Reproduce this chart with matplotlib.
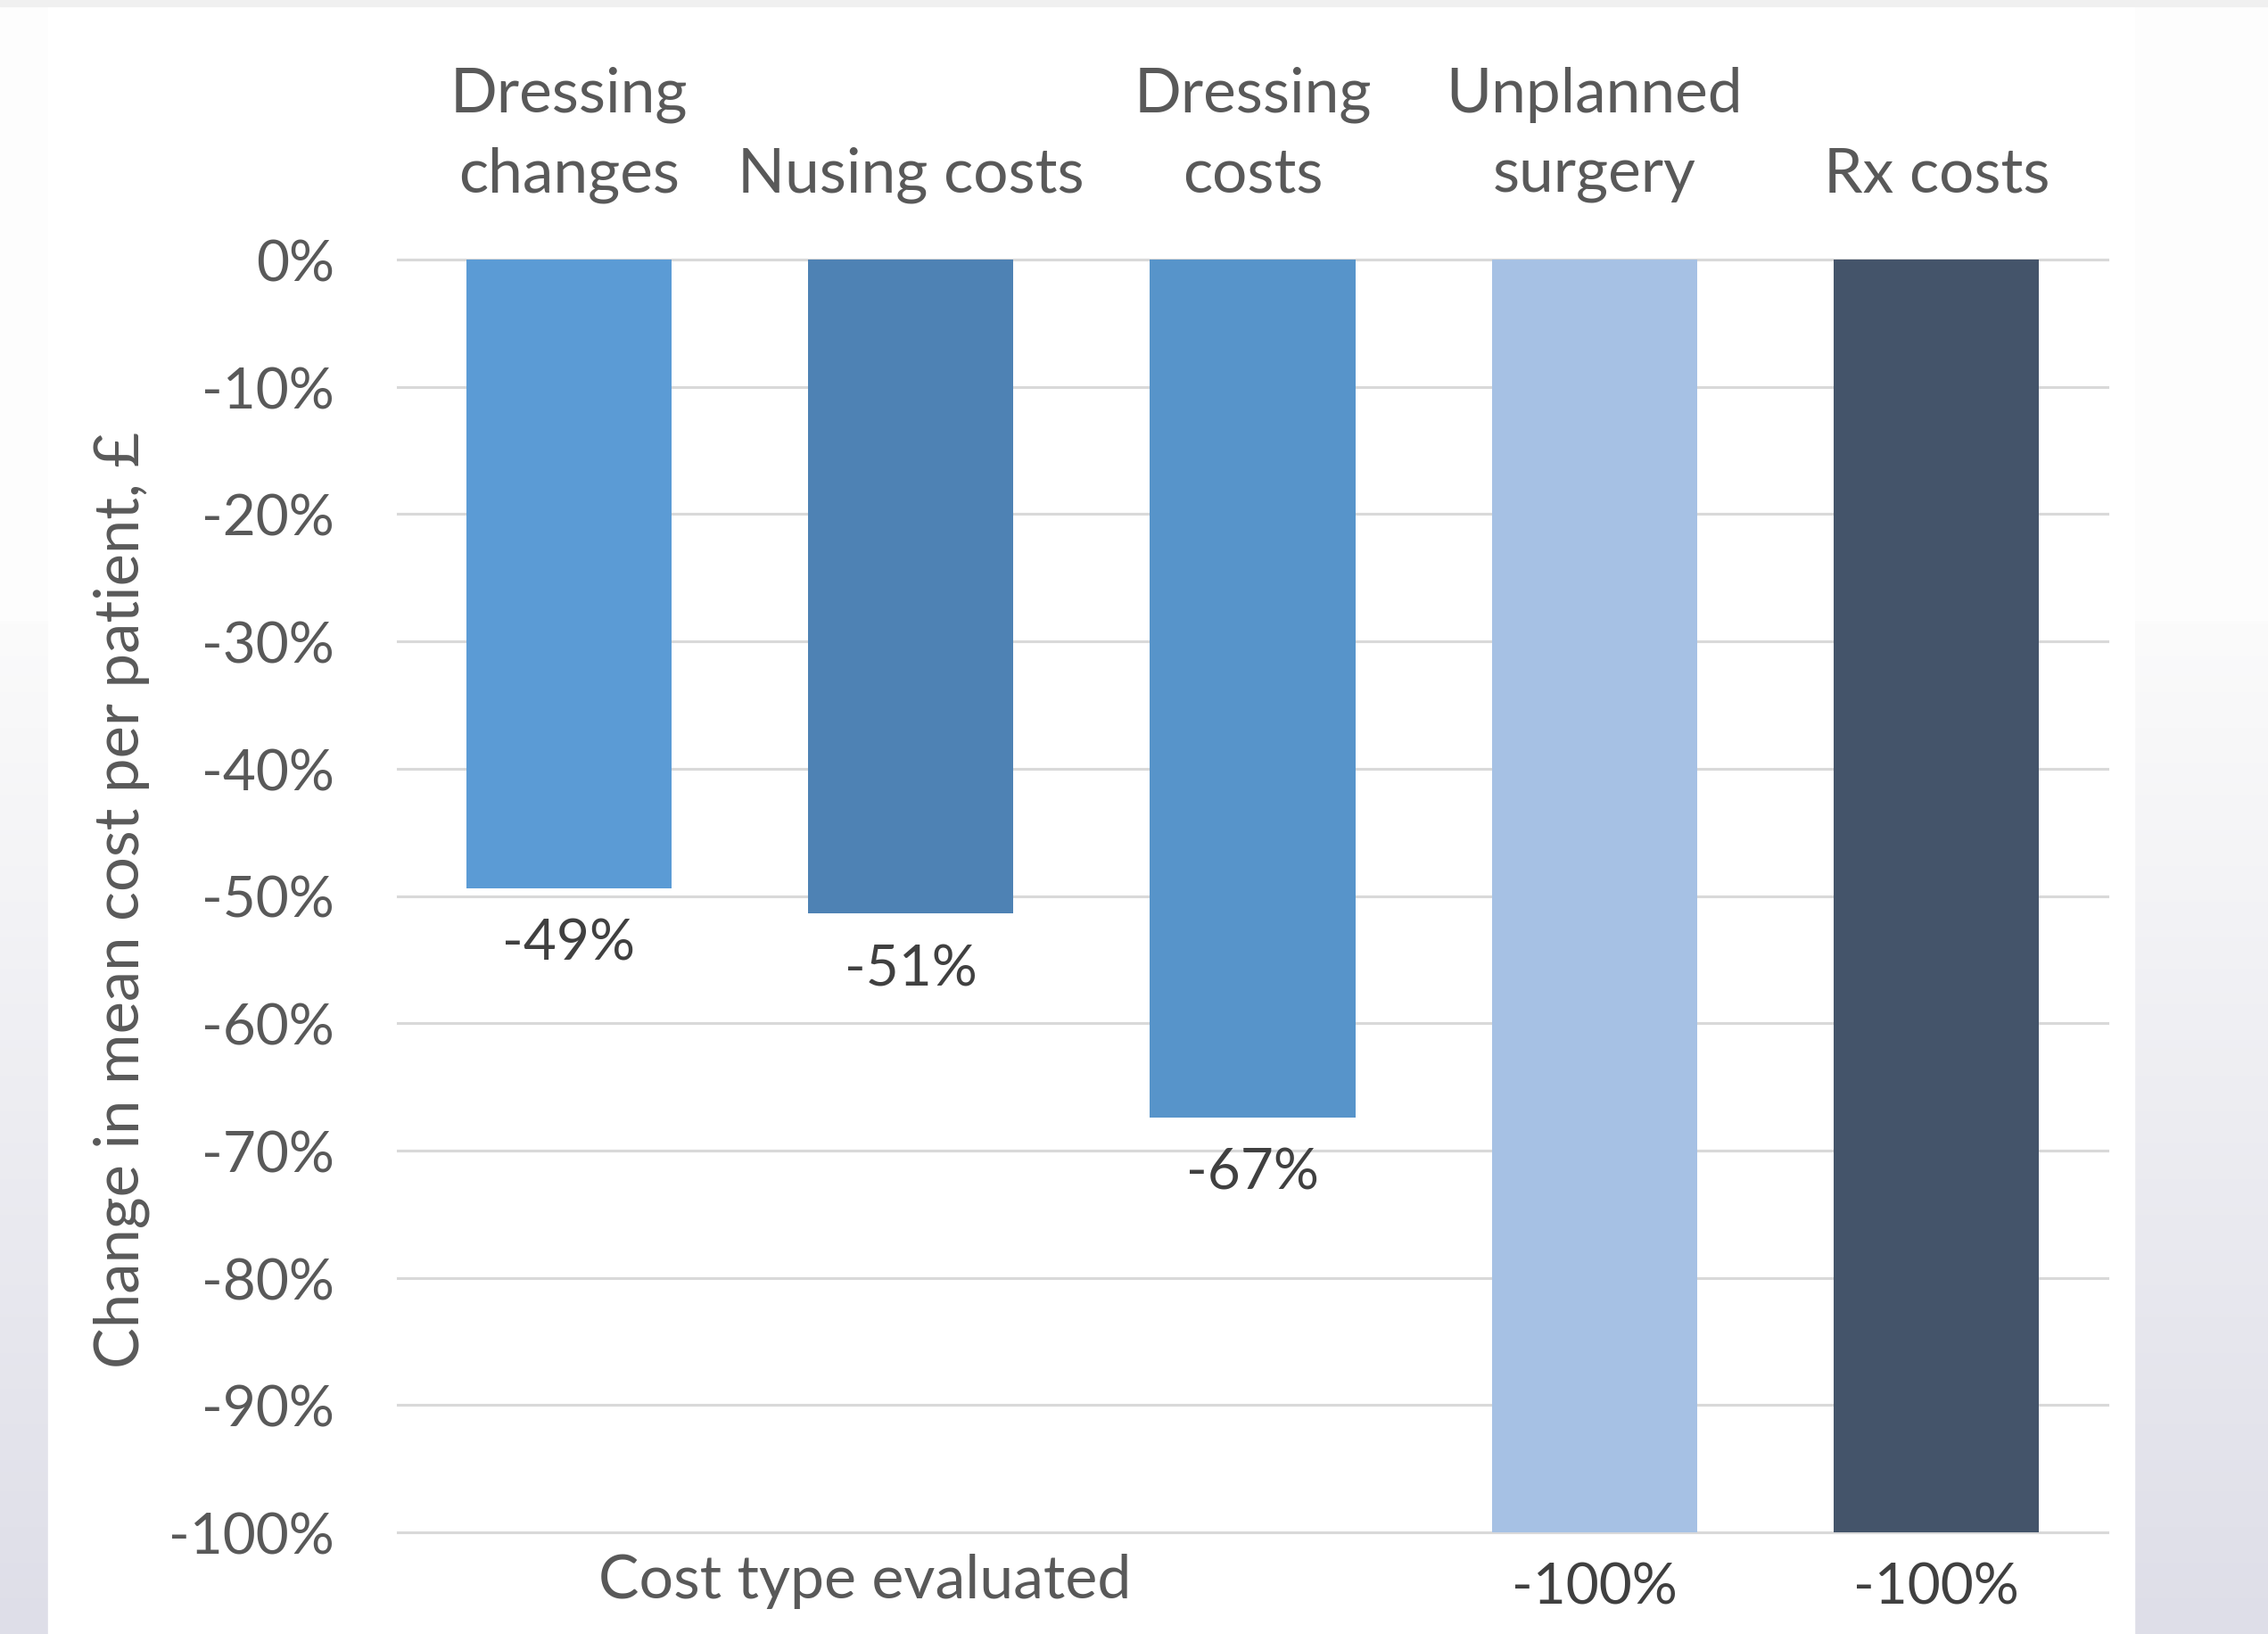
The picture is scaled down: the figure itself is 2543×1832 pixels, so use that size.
import matplotlib.pyplot as plt
import numpy as np
from matplotlib.patches import Rectangle

# Data
categories = ['Dressing\nchanges', 'Nusing costs', 'Dressing\ncosts', 'Unplanned\nsurgery', 'Rx costs']
values = [-0.494, -0.514, -0.674, -1.00, -1.00]
bar_colors = ['#5B9BD5', '#4E82B4', '#5794CA', '#A6C1E4', '#44546A']
yticks = np.arange(0, -1.01, -0.1)

W, H = 2543, 1833
plt.rcParams['font.family'] = ['Lato', 'DejaVu Sans']

fig = plt.figure(figsize=(W / 100, H / 100), dpi=100)

# background: white panel with grey gradient strips at the sides
bg = fig.add_axes([0, 0, 1, 1], zorder=-5)
bg.axis('off')
bg.add_patch(Rectangle((0, 0), W, H, color='#fdfdfd', zorder=1))
top = np.array([251, 251, 251]) / 255
bot = np.array([222, 222, 232]) / 255
t = np.linspace(0, 1, 256)[:, None, None]
grad = top + (bot - top) * t
bg.imshow(grad, extent=(0, 54, H, 697), aspect='auto', zorder=2)
bg.imshow(grad, extent=(2393, W, H, 697), aspect='auto', zorder=2)
bg.add_patch(Rectangle((54, 8), 2393 - 54, H, color='white', zorder=3))
bg.add_patch(Rectangle((0, 0), W, 8, color='#f0f0f0', zorder=4))
bg.set_xlim(0, W)
bg.set_ylim(H, 0)

# main chart
ax = fig.add_axes([446 / W, 1 - 1719 / H, (2363 - 446) / W, (1719 - 292) / H])
ax.set_facecolor('none')
x = np.arange(len(categories))
ax.bar(x, values, width=0.6, color=bar_colors, zorder=3)
for yv in yticks:
    ax.axhline(yv, color='#d9d9d9', linewidth=2.2, zorder=1, clip_on=False)
ax.set_xlim(-0.5, len(categories) - 0.5)
ax.set_ylim(-1, 0)
ax.set_yticks(yticks)
ax.set_yticklabels([f'{round(v * 100)}%' for v in yticks])
ax.tick_params(axis='y', length=0, pad=51, labelsize=46, labelcolor='#595959')
ax.set_xticks([])
for s in ax.spines.values():
    s.set_visible(False)

# data labels under the bars
for xi, v in zip(x, values):
    ax.annotate(f'{round(v * 100)}%', (xi, v), xytext=(0, -44.6), textcoords='offset points',
                ha='center', va='center', fontsize=46, color='#404040')

# category labels above the chart
for xi, lab in zip(x, categories):
    lines = lab.split('\n')
    for k, line in enumerate(reversed(lines)):
        fx = ax.transData.transform((xi, 0))[0] / W
        fy = 1 - (216 - 90 * k) / H
        fig.text(fx, fy, line, ha='center', va='baseline', fontsize=50, color='#595959')

fig.text(136 / W, 1 - 1009 / H, 'Change in mean cost per patient, £', rotation=90,
         ha='center', va='center', fontsize=49.5, color='#595959')
fig.text(970 / W, 1 - 1773 / H, 'Cost type evaluated', ha='center', va='center',
         fontsize=49, color='#595959')

fig.savefig('out.png', dpi=100)
